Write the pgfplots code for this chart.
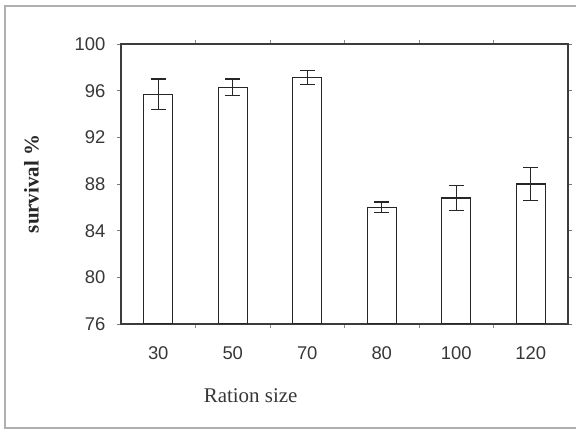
\documentclass[border=0pt]{standalone}
\usepackage{pgfplots}
\pgfplotsset{compat=1.18}
\usepackage{fontspec}
\setmainfont{Liberation Serif}
\newfontfamily\arial{Liberation Sans}
\definecolor{axisgray}{RGB}{60,60,60}
\definecolor{labelgray}{RGB}{55,55,55}
\definecolor{framegray}{RGB}{175,175,175}

\begin{document}
\begin{tikzpicture}
\useasboundingbox (0,0) rectangle (576bp,431bp);
\draw[framegray, line width=1.2bp] (5bp,3bp) rectangle (590bp,425bp);
\begin{axis}[
    at={(121bp,107bp)}, anchor=south west,
    scale only axis,
    width=447bp, height=280bp,
    ybar, bar width=29bp, bar shift=0pt,
    xmin=-0.5, xmax=5.5,
    ymin=76, ymax=100,
    xtick={0,...,5},
    xticklabels={30,50,70,80,100,120},
    minor xtick={0.5,1.5,2.5,3.5,4.5},
    ytick={76,80,...,100},
    major x tick style={draw=none},
    minor x tick style={axisgray!60, line width=0.8bp},
    y tick style={axisgray!70, line width=0.8bp},
    tick align=outside,
    minor tick length=4bp,
    major tick length=4bp,
    axis line style={axisgray, line width=1.3bp},
    /pgf/number format/assume math mode=true,
    ticklabel style={font=\arial\fontsize{18.5}{20}\selectfont, text=labelgray},
    xticklabel style={yshift=-15bp},
    yticklabel style={xshift=-8bp},
    xlabel={Ration size},
    xlabel style={font=\fontsize{21}{24}\selectfont, text=labelgray, at={(axis description cs:0.29,-0.255)}, anchor=center},
    ylabel={\textbf{survival \%}},
    ylabel style={font=\fontsize{21}{24}\selectfont, text=black!85, at={(axis description cs:-0.2,0.5)}, anchor=center, rotate=0},
]
\addplot[fill=white, draw=black!85, line width=1.2bp,
    error bars/.cd, y dir=both, y explicit,
    error bar style={line width=1.2bp, black!85},
    error mark options={rotate=90, line width=1.2bp, mark size=7.5bp, black!85}]
coordinates {
    (0,95.7) +- (0,1.3)
    (1,96.3) +- (0,0.7)
    (2,97.1) +- (0,0.6)
    (3,86.0) +- (0,0.45)
    (4,86.8) +- (0,1.05)
    (5,88.0) +- (0,1.4)
};
\end{axis}
\end{tikzpicture}
\end{document}
